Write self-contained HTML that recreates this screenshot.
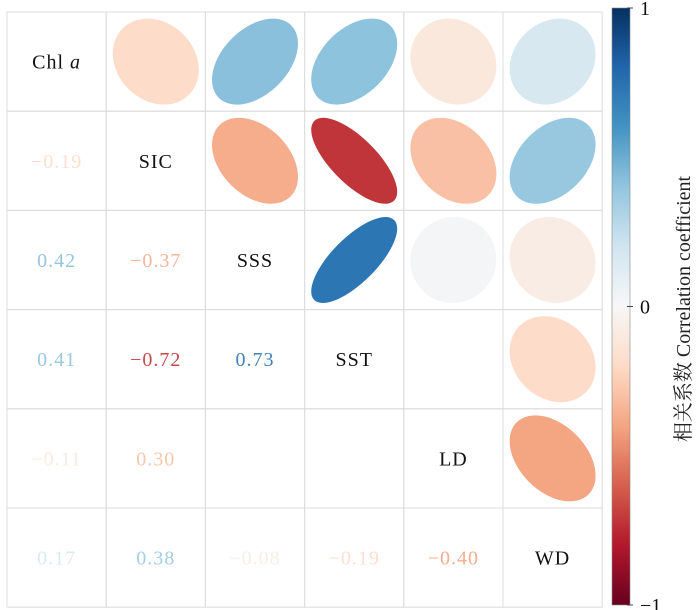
<!DOCTYPE html>
<html><head><meta charset="utf-8"><style>
body{margin:0;background:#fff;}
svg{display:block;font-family:"Liberation Serif","Noto Serif CJK SC",serif;}
</style></head><body>
<svg id="c" width="700" height="610"></svg>
<script>
const vars=["Chl a","SIC","SSS","SST","LD","WD"];
const corr=[
[1,-0.19,0.42,0.41,-0.11,0.17],
[-0.19,1,-0.37,-0.72,-0.30,0.38],
[0.42,-0.37,1,0.73,0.02,-0.08],
[0.41,-0.72,0.73,1,0.0,-0.19],
[-0.11,-0.30,0.02,0.0,1,-0.40],
[0.17,0.38,-0.08,-0.19,-0.40,1]];
const lowerLabels=[
[null,null,null,null,null,null],
["−0.19",null,null,null,null,null],
["0.42","−0.37",null,null,null,null],
["0.41","−0.72","0.73",null,null,null],
["−0.11","0.30","","",null,null],
["0.17","0.38","−0.08","−0.19","−0.40",null]];
const cbTicks=[1,0,-1];
const cbTickLabels=["1","0","−1"];

const NS="http://www.w3.org/2000/svg";
const svg=document.getElementById("c");
const X0=7,Y0=12,CW=99.2,N=6;
const stops=[[-1,[103,0,31]],[-0.8,[178,24,43]],[-0.6,[214,96,77]],[-0.4,[244,165,130]],[-0.2,[253,219,199]],[0,[247,247,247]],[0.2,[209,229,240]],[0.4,[146,197,222]],[0.6,[67,147,195]],[0.8,[33,102,172]],[1,[5,48,97]]];
function rgb(v){v=Math.max(-1,Math.min(1,v));for(let i=0;i<stops.length-1;i++){const a=stops[i],b=stops[i+1];if(v<=b[0]){const t=(v-a[0])/(b[0]-a[0]);return a[1].map((c,k)=>c+(b[1][k]-c)*t);}}return stops[10][1];}
function col(v,w){w=w||0;return"rgb("+rgb(v).map(c=>Math.round(c+(255-c)*w)).join(",")+")";}
function mk(t,a,p){const e=document.createElementNS(NS,t);for(const k in a)e.setAttribute(k,a[k]);(p||svg).appendChild(e);return e;}
function cx(j){return X0+CW*j;}
function cy(i){return Y0+CW*i;}
for(let i=0;i<N;i++)for(let j=0;j<N;j++){
 const r=mk("rect",{x:cx(j),y:cy(i),width:CW,height:CW,fill:"none",stroke:"#dcdcdc","stroke-width":1});
 
 
}
const S=43;
for(let i=0;i<N;i++)for(let j=0;j<N;j++){
 const mx=cx(j)+CW/2,my=cy(i)+CW/2;
 if(i===j){
  const t=mk("text",{x:mx,y:my+7,"text-anchor":"middle","font-size":20,fill:"#111","letter-spacing":"1"});
  if(vars[i]==="Chl a"){t.textContent="Chl ";const ts=mk("tspan",{"font-style":"italic"},t);ts.textContent="a";}else t.textContent=vars[i];
  
  
 }else if(j>i){
  const r=corr[i][j];
  if(Math.abs(r)<0.01)continue;
  const a=S*Math.sqrt(1+Math.abs(r)),b=S*Math.sqrt(1-Math.abs(r));
  const ang=r>0?-45:45;
  const e=mk("ellipse",{cx:mx,cy:my,rx:a,ry:b,fill:col(r,0),transform:"rotate("+ang+" "+mx+" "+my+")"});
  
  
 }else{
  const lab=lowerLabels[i][j];
  if(!lab)continue;
  const t=mk("text",{x:mx,y:my+7,"text-anchor":"middle","font-size":20,fill:col(corr[i][j],0.1),"letter-spacing":"1"});
  t.textContent=lab;
  
  
 }
}
const CBX=612,CBW=18,CBT=8,CBB=605;
const defs=mk("defs",{});
const g=mk("linearGradient",{id:"cbg",x1:0,y1:0,x2:0,y2:1},defs);
stops.slice().reverse().forEach(s=>mk("stop",{offset:((1-s[0])/2),"stop-color":col(s[0])},g));
const cb=mk("rect",{x:CBX,y:CBT,width:CBW,height:CBB-CBT,fill:"url(#cbg)",stroke:"#888","stroke-width":0.6});


function cbY(v){return CBT+(1-v)/2*(CBB-CBT);}
cbTicks.forEach((v,k)=>{
 const y=cbY(v);
 mk("line",{x1:CBX+CBW-3,x2:CBX+CBW+3,y1:y,y2:y,stroke:"#444"});
 const t=mk("text",{x:CBX+CBW+10,y:y+7,"font-size":20,fill:"#111"});
 t.textContent=cbTickLabels[k];
 
 
});
const tt=mk("text",{x:0,y:0,"font-size":20,fill:"#222","text-anchor":"middle",transform:"translate(690 309) rotate(-90)"});
tt.textContent="相关系数 Correlation coefficient";


</script>
</body></html>
